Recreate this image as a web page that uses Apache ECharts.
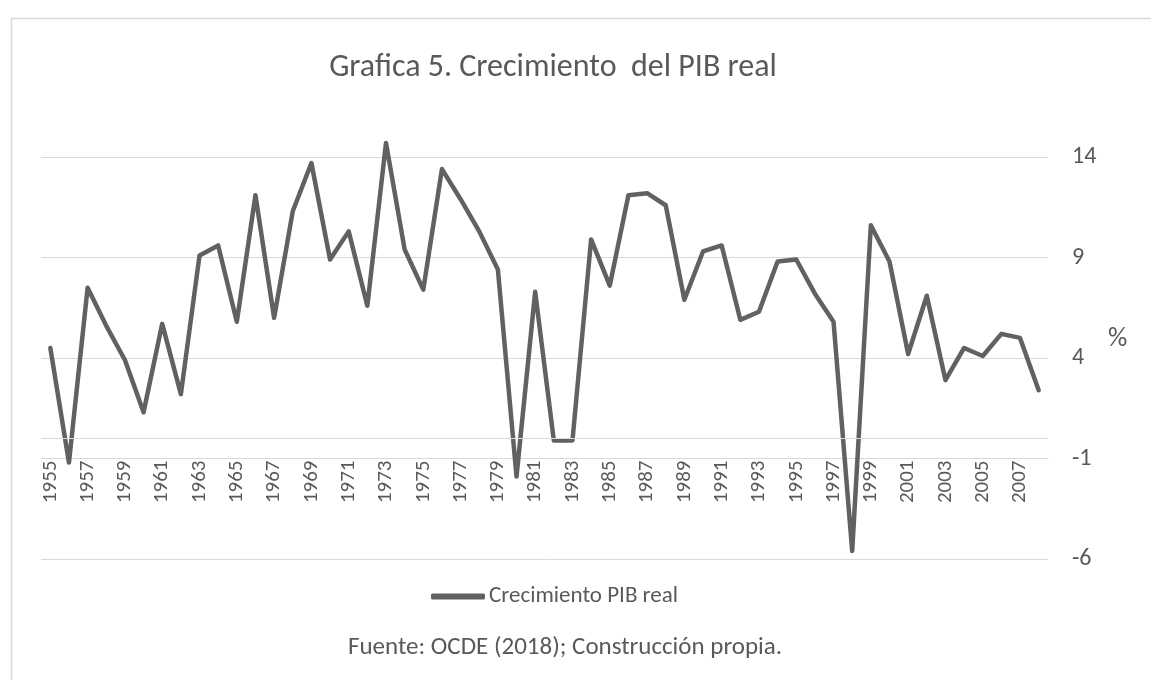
<!DOCTYPE html>
<html>
<head>
<meta charset="utf-8">
<script src="https://cdn.jsdelivr.net/npm/echarts@6/dist/echarts.min.js"></script>
<style>
html,body{margin:0;padding:0;background:#fff;}
#chart{width:1151px;height:680px;}
</style>
</head>
<body>
<div id="chart"></div>
<script>
const years = ['1955','1956','1957','1958','1959','1960','1961','1962','1963','1964',
  '1965','1966','1967','1968','1969','1970','1971','1972','1973','1974',
  '1975','1976','1977','1978','1979','1980','1981','1982','1983','1984',
  '1985','1986','1987','1988','1989','1990','1991','1992','1993','1994',
  '1995','1996','1997','1998','1999','2000','2001','2002','2003','2004',
  '2005','2006','2007','2008'];
const growth = [4.5,-1.2,7.5,5.6,3.9,1.3,5.7,2.2,9.1,9.6,
  5.8,12.1,6.0,11.3,13.7,8.9,10.3,6.6,14.7,9.4,
  7.4,13.4,11.9,10.3,8.4,-1.9,7.3,-0.1,-0.1,9.9,
  7.6,12.1,12.2,11.6,6.9,9.3,9.6,5.9,6.3,8.8,
  8.9,7.2,5.8,-5.6,10.6,8.8,4.2,7.1,2.9,4.5,
  4.1,5.2,5.0,2.4];
const seriesName = 'Crecimiento PIB real';
const titleText = 'Grafica 5. Crecimiento  del PIB real';
const sourceText = 'Fuente: OCDE (2018); Construcción propia.';
const yTicks = {min: -6, max: 14, interval: 5};
const categoryAxisCross = -1;
const zeroLine = 0;
const unitLabel = '%';

const FONT = "Carlito, 'Noto Sans', sans-serif";
const TXT = '#595959';
const GRID = '#d9d9d9';
const chart = echarts.init(document.getElementById('chart'), null, {renderer: 'canvas'});

const gridTop = 157, gridBottom = 121, H = 680;
const plotH = H - gridTop - gridBottom;
const axisOffset = -plotH * (categoryAxisCross - yTicks.min) / (yTicks.max - yTicks.min);

chart.setOption({
  animation: false,
  backgroundColor: '#fff',
  textStyle: {fontFamily: FONT, color: TXT},
  title: [
    {text: titleText, left: 548, textAlign: 'center', top: 47,
     textStyle: {fontFamily: FONT, fontSize: 32, fontWeight: 'normal', color: TXT}},
    {text: sourceText, left: 560, textAlign: 'center', top: 630,
     textStyle: {fontFamily: FONT, fontSize: 25, fontWeight: 'normal', color: TXT}}
  ],
  graphic: [
    {type: 'rect', shape: {x: 11.5, y: 18.5, width: 1300, height: 800},
     style: {fill: 'none', stroke: GRID, lineWidth: 1.5}, silent: true},
    {type: 'text', left: 1108, top: 326,
     style: {text: unitLabel, font: "27px " + FONT, fill: TXT}}
  ],
  legend: {
    data: [seriesName], left: 426, top: 580,
    icon: 'roundRect', itemWidth: 54, itemHeight: 6, itemGap: 10,
    textStyle: {fontFamily: FONT, fontSize: 23, color: TXT, padding: [0, 0, 0, -1]}
  },
  grid: {left: 41, right: 103, top: gridTop, bottom: gridBottom, containLabel: false},
  xAxis: {
    type: 'category', data: years, boundaryGap: true, offset: axisOffset,
    axisLine: {onZero: false, lineStyle: {color: GRID, width: 1}},
    axisTick: {show: false},
    axisLabel: {rotate: 90, interval: 1, margin: 2, color: TXT, fontFamily: FONT, fontSize: 21}
  },
  yAxis: {
    type: 'value', position: 'right', min: yTicks.min, max: yTicks.max, interval: yTicks.interval,
    axisLine: {show: false}, axisTick: {show: false},
    splitLine: {lineStyle: {color: GRID, width: 1}},
    axisLabel: {margin: 24, color: TXT, fontFamily: FONT, fontSize: 24, align: 'left'}
  },
  series: [{
    name: seriesName, type: 'line', data: growth, symbol: 'none', clip: false,
    lineStyle: {color: '#616161', width: 4.5, cap: 'round', join: 'round'},
    itemStyle: {color: '#616161'},
    markLine: {
      silent: true, symbol: ['none', 'none'], label: {show: false},
      lineStyle: {color: GRID, width: 1, type: 'solid'},
      data: [{yAxis: zeroLine}]
    },
    z: 3
  }]
});
</script>
</body>
</html>
